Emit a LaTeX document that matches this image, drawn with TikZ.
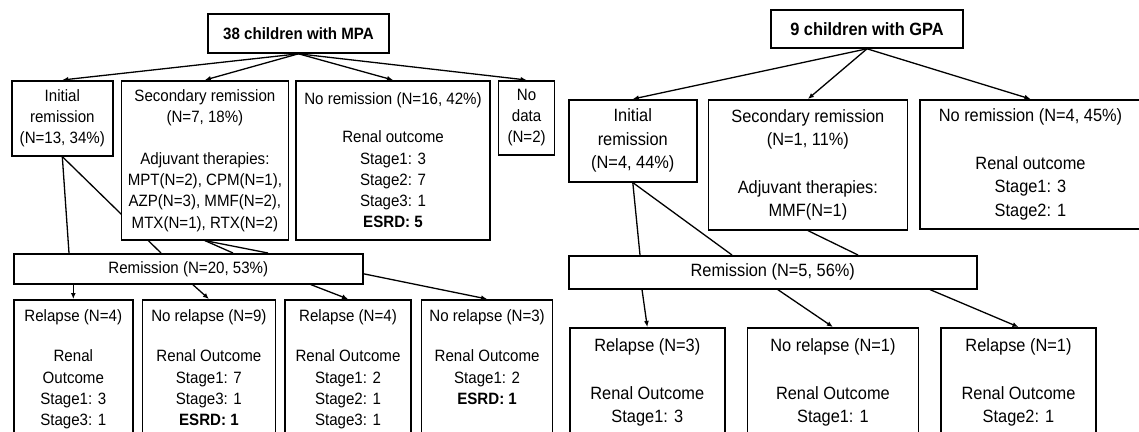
\documentclass[tikz,border=0pt]{standalone}
\usepackage{fontspec}
\setmainfont{Liberation Sans}[FakeStretch=0.92]
\usetikzlibrary{arrows.meta,positioning,calc,backgrounds}

\begin{document}
\begin{tikzpicture}[x=1pt,y=-1pt,node distance=7pt]
  \tikzstyle{flowbox}=[rectangle,draw=black,line width=1.6pt,fill=white,align=center,inner xsep=2pt,inner ysep=2pt]
  \tikzstyle{mpafont}=[font=\fontsize{16.4}{21.2}\selectfont]
  \tikzstyle{gpafont}=[font=\fontsize{17.8}{23.5}\selectfont]
  \tikzstyle{outbox}=[flowbox,text depth=160pt]
  \tikzstyle{arr}=[line width=1.3pt,-{Latex[length=6pt,width=5pt]}]
  \tikzstyle{link}=[line width=1.3pt]

  \useasboundingbox (0,0) rectangle (1139,431);
  \clip (0,0) rectangle (1139,431);

  % MPA
  \node[flowbox,mpafont,minimum width=181pt,minimum height=39pt] (mpa) at (298.5,33.5) {\textbf{38 children with MPA}};
  \node[flowbox,mpafont,minimum width=101pt,minimum height=75pt,anchor=north west] (ini) at (11,80) {Initial\\remission\\(N=13, 34\%)};
  \node[flowbox,mpafont,minimum width=167pt,minimum height=159pt,right=7pt of ini.north east,anchor=north west] (sec) {Secondary remission\\(N=7, 18\%)\\[21pt]Adjuvant therapies:\\MPT(N=2), CPM(N=1),\\AZP(N=3), MMF(N=2),\\MTX(N=1), RTX(N=2)};
  \node[flowbox,mpafont,minimum width=194pt,minimum height=159pt,right=6pt of sec.north east,anchor=north west] (nor) {No remission (N=16, 42\%)\\[17pt]Renal outcome\\Stage1: 3\\Stage2: 7\\Stage3: 1\\\textbf{ESRD: 5}};
  \node[flowbox,mpafont,minimum width=56pt,minimum height=74pt,right=7pt of nor.north east,anchor=north west] (nod) {No\\data\\(N=2)};
  \node[flowbox,mpafont,minimum width=349pt,minimum height=30pt,anchor=north west] (rem) at (13,253) {Remission (N=20, 53\%)};
  \node[outbox,mpafont,inner ysep=10pt,minimum width=119pt,anchor=north west] (b1) at (13,299) {Relapse (N=4)\\[19pt]Renal\\Outcome\\Stage1: 3\\Stage3: 1};
  \node[outbox,mpafont,inner ysep=10pt,minimum width=133pt,right=8pt of b1.north east,anchor=north west] (b2) {No relapse (N=9)\\[19pt]Renal Outcome\\Stage1: 7\\Stage3: 1\\\textbf{ESRD: 1}};
  \node[outbox,mpafont,inner ysep=10pt,minimum width=126pt,right=8pt of b2.north east,anchor=north west] (b3) {Relapse (N=4)\\[19pt]Renal Outcome\\Stage1: 2\\Stage2: 1\\Stage3: 1};
  \node[outbox,mpafont,inner ysep=10pt,minimum width=131pt,right=9pt of b3.north east,anchor=north west] (b4) {No relapse (N=3)\\[19pt]Renal Outcome\\Stage1: 2\\\textbf{ESRD: 1}};

  % GPA
  \node[flowbox,gpafont,minimum width=192pt,minimum height=38pt] (gpa) at (867,29) {\textbf{9 children with GPA}};
  \node[flowbox,gpafont,minimum width=128pt,minimum height=82pt,anchor=north west] (rini) at (568,99) {Initial\\remission\\(N=4, 44\%)};
  \node[flowbox,gpafont,minimum width=199pt,minimum height=130pt,right=10pt of rini.north east,anchor=north west] (rsec) {Secondary remission\\(N=1, 11\%)\\[24pt]Adjuvant therapies:\\MMF(N=1)};
  \node[flowbox,gpafont,minimum width=221pt,minimum height=129pt,right=11pt of rsec.north east,anchor=north west] (rnor) {No remission (N=4, 45\%)\\[24pt]Renal outcome\\Stage1: 3\\Stage2: 1};
  \node[flowbox,gpafont,minimum width=408pt,minimum height=33pt,anchor=north west] (rrem) at (568,255) {Remission (N=5, 56\%)};
  \node[outbox,gpafont,inner ysep=11pt,minimum width=155pt,anchor=north west] (c1) at (569,327) {Relapse (N=3)\\[24pt]Renal Outcome\\Stage1: 3};
  \node[outbox,gpafont,inner ysep=11pt,minimum width=171pt,right=21pt of c1.north east,anchor=north west] (c2) {No relapse (N=1)\\[24pt]Renal Outcome\\Stage1: 1};
  \node[outbox,gpafont,inner ysep=11pt,minimum width=155pt,right=21pt of c2.north east,anchor=north west] (c3) {Relapse (N=1)\\[24pt]Renal Outcome\\Stage2: 1};

  \begin{scope}[on background layer]
    \fill[white] (0,0) rectangle (1139,431);
    \draw[arr] (mpa.south) -- (ini.north);
    \draw[arr] (mpa.south) -- (sec.north);
    \draw[arr] (mpa.south) -- (nor.north);
    \draw[arr] (mpa.south) -- (nod.north);
    \draw[link] (ini.south) -- ($(rem.north west)+(56,0)$);
    \draw[link] (ini.south) -- ($(rem.north west)+(148,0)$);
    \draw[link] (sec.south) -- ($(rem.north west)+(220,0)$);
    \draw[link] (sec.south) -- ($(rem.north west)+(255,0)$);
    \draw[arr] (rem.south -| b1.north) -- (b1.north);
    \draw[arr] ($(rem.south)+(4.5,0)$) -- (b2.north);
    \draw[arr] ($(rem.south)+(122.5,0)$) -- (b3.north);
    \draw[arr] ($(rem.east)+(0,5)$) -- (b4.north);

    \draw[arr] (gpa.south) -- (rini.north);
    \draw[arr] (gpa.south) -- (rsec.north);
    \draw[arr] (gpa.south) -- (rnor.north);
    \draw[link] (rini.south) -- ($(rrem.north west)+(72,0)$);
    \draw[link] (rini.south) -- ($(rrem.north west)+(164,0)$);
    \draw[link] (rsec.south) -- ($(rrem.north west)+(290,0)$);
    \draw[arr] ($(rrem.south west)+(74,0)$) -- (c1.north);
    \draw[arr] ($(rrem.south)+(5,0)$) -- (c2.north);
    \draw[arr] ($(rrem.south west)+(362,0)$) -- (c3.north);
  \end{scope}
\end{tikzpicture}
\end{document}
